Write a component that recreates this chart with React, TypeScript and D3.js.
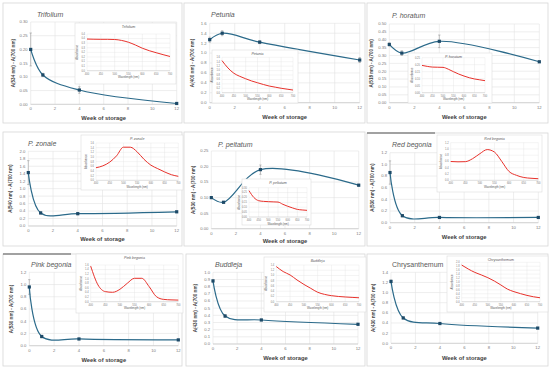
import React from 'react';
import * as d3 from 'd3';

// weeks of storage and spectrum wavelengths shared by every panel
const weeks = [0, 1, 4, 12];
const weekTicks = [0, 2, 4, 6, 8, 10, 12];
const wavelengths = [400, 425, 450, 475, 500, 525, 550, 575, 600, 625, 650, 675, 700];
const wavelengthTicks = [400, 450, 500, 550, 600, 650, 700];

const panelNames = ['Trifolium', 'Petunia', 'P. horatum', 'P. zonale', 'P. peltatum', 'Red begonia', 'Pink begonia', 'Buddleja', 'Chrysanthemum'];
const panelItalic = [true, true, true, true, true, true, true, true, false];
const indexLabels = [
  'A(534 nm) - A(700 nm)', 'A(400 nm) - A(700 nm)', 'A(518 nm) - A(700 nm)',
  'A(540 nm) - A(700 nm)', 'A(530 nm) - A(700 nm)', 'A(530 nm) - A(700 nm)',
  'A(530 nm) - A(700 nm)', 'A(430 nm) - A(700 nm)', 'A(430 nm) - A(700 nm)',
];

// main chart axes
const indexMax = [0.3, 1.6, 0.5, 2.0, 0.25, 1.2, 1.2, 1.0, 1.4];
const indexStep = [0.05, 0.2, 0.05, 0.2, 0.05, 0.2, 0.2, 0.1, 0.2];
const indexFormat = ['.2f', '.1f', '.2f', '.1f', '.2f', '.1f', '.1f', '.1f', '.1f'];

// inset axes
const spectrumMax = [0.4, 1.6, 0.25, 1.6, 0.3, 1.2, 1.6, 1.4, 2.0];
const spectrumStep = [0.05, 0.2, 0.05, 0.2, 0.05, 0.2, 0.2, 0.2, 0.2];
const spectrumFormat = ['.1f', '.1f', '.2f', '.1f', '.2f', '.1f', '.1f', '.1f', '.1f'];

// colour index per week
const trifoliumIndex = [0.2, 0.107, 0.052, 0.003];
const petuniaIndex = [1.27, 1.4, 1.22, 0.86];
const horatumIndex = [0.37, 0.315, 0.39, 0.26];
const zonaleIndex = [1.43, 0.35, 0.33, 0.38];
const peltatumIndex = [0.1, 0.085, 0.19, 0.14];
const redBegoniaIndex = [0.86, 0.12, 0.09, 0.09];
const pinkBegoniaIndex = [0.96, 0.15, 0.11, 0.095];
const buddlejaIndex = [0.88, 0.39, 0.335, 0.275];
const chrysanthemumIndex = [1.22, 0.5, 0.39, 0.3];

// error bars per week
const trifoliumError = [0.06, 0.006, 0.012, 0.002];
const petuniaError = [0.05, 0.05, 0.03, 0.05];
const horatumError = [0.01, 0.015, 0.04, 0.005];
const zonaleError = [0.32, 0.03, 0.03, 0.02];
const peltatumError = [0.003, 0.003, 0.015, 0.003];
const redBegoniaError = [0.2, 0.02, 0.01, 0.005];
const pinkBegoniaError = [0.12, 0.02, 0.01, 0.005];
const buddlejaError = [0.02, 0.02, 0.01, 0.01];
const chrysanthemumError = [0.03, 0.02, 0.01, 0.01];

// absorbance spectra (inset), one value per wavelength
const trifoliumSpectrum = [0.345, 0.343, 0.342, 0.342, 0.34, 0.33, 0.31, 0.28, 0.245, 0.218, 0.196, 0.175, 0.155];
const petuniaSpectrum = [1.45, 1.12, 0.88, 0.74, 0.63, 0.53, 0.45, 0.37, 0.3, 0.25, 0.2, 0.16, 0.12];
const horatumSpectrum = [0.195, 0.188, 0.183, 0.182, 0.181, 0.168, 0.15, 0.133, 0.119, 0.107, 0.098, 0.092, 0.086];
const zonaleSpectrum = [0.54, 0.62, 0.78, 1.05, 1.42, 1.42, 1.22, 0.9, 0.65, 0.5, 0.36, 0.24, 0.17];
const peltatumSpectrum = [0.27, 0.2, 0.167, 0.16, 0.157, 0.155, 0.153, 0.13, 0.11, 0.093, 0.078, 0.072, 0.068];
const redBegoniaSpectrum = [0.6, 0.59, 0.595, 0.69, 0.85, 0.98, 0.9, 0.6, 0.28, 0.16, 0.09, 0.065, 0.05];
const pinkBegoniaSpectrum = [1.55, 0.73, 0.44, 0.41, 0.54, 0.8, 1.02, 1.02, 0.66, 0.22, 0.1, 0.08, 0.07];
const buddlejaSpectrum = [1.34, 1.15, 1.02, 0.83, 0.66, 0.51, 0.36, 0.28, 0.23, 0.2, 0.18, 0.165, 0.15];
const chrysanthemumSpectrum = [1.86, 1.66, 1.49, 1.36, 1.22, 1.05, 0.85, 0.64, 0.51, 0.41, 0.32, 0.25, 0.2];

const indexSeries = [trifoliumIndex, petuniaIndex, horatumIndex, zonaleIndex, peltatumIndex, redBegoniaIndex, pinkBegoniaIndex, buddlejaIndex, chrysanthemumIndex];
const errorSeries = [trifoliumError, petuniaError, horatumError, zonaleError, peltatumError, redBegoniaError, pinkBegoniaError, buddlejaError, chrysanthemumError];
const spectrumSeries = [trifoliumSpectrum, petuniaSpectrum, horatumSpectrum, zonaleSpectrum, peltatumSpectrum, redBegoniaSpectrum, pinkBegoniaSpectrum, buddlejaSpectrum, chrysanthemumSpectrum];

// layout: frame [x0,y0,x1,y1], plot [left,right,top,bottom], inset box [x0,y0,x1,y1], inset plot [left,right,top,bottom]
const layout = [
  { frame: [3, 3, 182, 123], plot: [30.7, 176.7, 22, 104.3], box: [75, 23, 176, 84], inner: [87, 170, 34, 70.7], title: [37, 17], xlab: 16 },
  { frame: [184, 3, 365, 123], plot: [209.7, 359.7, 23.3, 102.7], box: [212, 50, 298, 103], inner: [222, 293, 57.3, 92.7], title: [211, 17], xlab: 16 },
  { frame: [367, 3, 548, 123], plot: [389.3, 539.3, 24, 102.7], box: [408, 53, 492, 103], inner: [422, 485, 57.7, 92.7], title: [392, 18], xlab: 16 },
  { frame: [3, 132, 182, 246], plot: [28.3, 176.7, 151.3, 226], box: [81, 135, 183, 190], inner: [96, 178.3, 143, 180.3], title: [28, 146], xlab: 15 },
  { frame: [184, 132, 365, 246], plot: [211.3, 358.7, 151, 228.7], box: [242, 179, 311, 225], inner: [249, 307, 187.7, 217], title: [218, 147], xlab: 14 },
  { frame: [367, 133, 548, 246], plot: [390, 538.3, 152.7, 222.7], box: [437, 135, 542, 192], inner: [450.7, 538.3, 142.7, 180.3], title: [392, 147], xlab: 16, dark: true },
  { frame: [3, 254, 182, 366], plot: [29.3, 178.3, 272.3, 345.7], box: [76, 254, 183, 313], inner: [90.7, 178.3, 265, 301.7], title: [31, 267], xlab: 16, dark: true },
  { frame: [186, 254, 365, 366], plot: [213, 358, 272.3, 344], box: [264, 257, 366, 312], inner: [276.3, 359, 265, 301.7], title: [215, 267], xlab: 16 },
  { frame: [367, 254, 548, 366], plot: [391, 537.7, 272.3, 343.3], box: [447, 256, 548, 312], inner: [461.7, 540, 262.3, 301.7], title: [392, 267], xlab: 17 },
];

const FONT = '"Liberation Sans", Arial, sans-serif';
const GRID = '#e3e3e3';
const TICK = '#7a7a7a';

function Panel({ i }: { i: number }) {
  const L = layout[i];
  const [pl, pr, pt, pb] = L.plot;
  const x = d3.scaleLinear().domain([0, 12]).range([pl, pr]);
  const y = d3.scaleLinear().domain([0, indexMax[i]]).range([pb, pt]);
  const yTicks = d3.range(0, indexMax[i] + indexStep[i] / 2, indexStep[i]);
  const fmt = d3.format(indexFormat[i]);
  const pts = weeks.map((w, k) => ({ w, v: indexSeries[i][k], e: errorSeries[i][k] }));
  const line = d3.line<{ w: number; v: number }>()
    .x((d) => x(d.w))
    .y((d) => y(d.v))
    .curve(d3.curveCatmullRom.alpha(0.5));

  const [il, ir, it, ib] = L.inner;
  const sx = d3.scaleLinear().domain([400, 700]).range([il, ir]);
  const sy = d3.scaleLinear().domain([0, spectrumMax[i]]).range([ib, it]);
  const sTicks = d3.range(0, spectrumMax[i] + spectrumStep[i] / 2, spectrumStep[i]);
  const sfmt = d3.format(spectrumFormat[i]);
  const spec = wavelengths.map((w, k) => ({ w, v: spectrumSeries[i][k] }));
  const sline = d3.line<{ w: number; v: number }>()
    .x((d) => sx(d.w))
    .y((d) => sy(d.v))
    .curve(d3.curveMonotoneX);

  const [fx0, fy0, fx1, fy1] = L.frame;
  const [bx0, by0, bx1, by1] = L.box;

  return (
    <g fontFamily={FONT}>
      <rect x={fx0} y={fy0} width={fx1 - fx0} height={fy1 - fy0} fill="#fff" stroke="#d6d6d6" strokeWidth={0.8} />
      {L.dark && <line x1={fx0} x2={fx0 + 68} y1={fy0} y2={fy0} stroke="#555" strokeWidth={1.2} />}

      {yTicks.map((t) => (
        <g key={'y' + t}>
          <line x1={pl} x2={pr} y1={y(t)} y2={y(t)} stroke={GRID} strokeWidth={0.6} />
          <text x={pl - 3} y={y(t) + 1.4} fontSize={4.2} fill={TICK} textAnchor="end">{fmt(t)}</text>
        </g>
      ))}
      {weekTicks.map((t) => (
        <g key={'x' + t}>
          <line x1={x(t)} x2={x(t)} y1={pt} y2={pb} stroke={GRID} strokeWidth={0.6} />
          <text x={x(t)} y={pb + 6} fontSize={4.2} fill={TICK} textAnchor="middle">{t}</text>
        </g>
      ))}
      <line x1={pl} x2={pr} y1={pb} y2={pb} stroke="#bfbfbf" strokeWidth={0.6} />

      <text x={L.title[0]} y={L.title[1]} fontSize={7} fill="#595959" fontStyle={panelItalic[i] ? 'italic' : 'normal'}>{panelNames[i]}</text>
      <text transform={`translate(${pl - 16},${(pt + pb) / 2}) rotate(-90)`} fontSize={4.6} fontWeight="bold" fill="#404040" textAnchor="middle">{indexLabels[i]}</text>
      <text x={(pl + pr) / 2} y={pb + L.xlab} fontSize={5.8} fontWeight="bold" fill="#404040" textAnchor="middle">Week of storage</text>

      {pts.map((d) => (
        <g key={'e' + d.w} stroke="#8c8c8c" strokeWidth={0.5}>
          <line x1={x(d.w)} x2={x(d.w)} y1={y(d.v + d.e)} y2={y(Math.max(0, d.v - d.e))} />
          <line x1={x(d.w) - 1.2} x2={x(d.w) + 1.2} y1={y(d.v + d.e)} y2={y(d.v + d.e)} />
          <line x1={x(d.w) - 1.2} x2={x(d.w) + 1.2} y1={y(Math.max(0, d.v - d.e))} y2={y(Math.max(0, d.v - d.e))} />
        </g>
      ))}
      <path d={line(pts) || ''} fill="none" stroke="#2b6a8a" strokeWidth={1.2} />
      {pts.map((d) => (
        <rect key={'m' + d.w} x={x(d.w) - 1.6} y={y(d.v) - 1.6} width={3.2} height={3.2} fill="#1d4a68" />
      ))}

      <rect x={bx0} y={by0} width={bx1 - bx0} height={by1 - by0} fill="#fff" stroke="#dcdcdc" strokeWidth={0.6} />
      {sTicks.map((t) => (
        <g key={'sy' + t}>
          <line x1={il} x2={ir} y1={sy(t)} y2={sy(t)} stroke={GRID} strokeWidth={0.4} />
          <text x={il - 2} y={sy(t) + 0.9} fontSize={2.6} fill={TICK} textAnchor="end">{sfmt(t)}</text>
        </g>
      ))}
      {wavelengthTicks.map((t) => (
        <g key={'sx' + t}>
          <line x1={sx(t)} x2={sx(t)} y1={it} y2={ib} stroke={GRID} strokeWidth={0.4} />
          <text x={sx(t)} y={ib + 3.8} fontSize={2.6} fill={TICK} textAnchor="middle">{t}</text>
        </g>
      ))}
      <line x1={il} x2={ir} y1={ib} y2={ib} stroke="#bfbfbf" strokeWidth={0.4} />
      <text x={(il + ir) / 2} y={by0 + 5} fontSize={3.6} fill="#595959" textAnchor="middle" fontStyle={panelItalic[i] ? 'italic' : 'normal'}>{panelNames[i]}</text>
      <text x={(il + ir) / 2} y={ib + 7.6} fontSize={2.8} fill="#595959" textAnchor="middle">Wavelength (nm)</text>
      <text transform={`translate(${il - 9},${(it + ib) / 2}) rotate(-90)`} fontSize={2.8} fill="#595959" textAnchor="middle">Absorbance</text>
      <path d={sline(spec) || ''} fill="none" stroke="#e8312b" strokeWidth={1} />
    </g>
  );
}

export default function App() {
  return (
    <svg width={550} height={369} style={{ position: 'absolute', left: 0, top: 0, background: '#fff' }}>
      {panelNames.map((_, i) => (
        <Panel key={i} i={i} />
      ))}
    </svg>
  );
}
